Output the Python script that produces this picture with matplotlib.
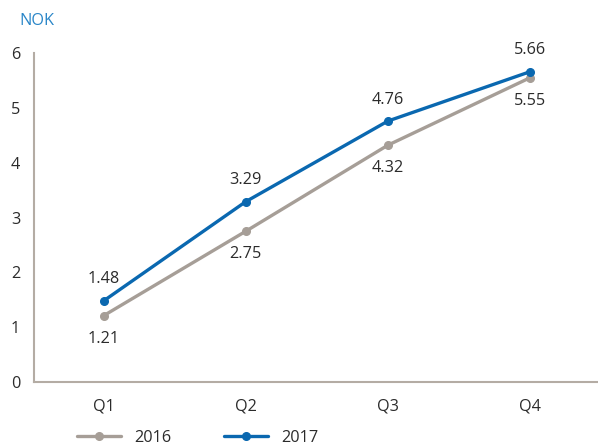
import matplotlib
matplotlib.use("Agg")
import matplotlib.pyplot as plt
import numpy as np

quarters = ["Q1", "Q2", "Q3", "Q4"]
eps_2016 = [1.21, 2.75, 4.32, 5.55]
eps_2017 = [1.48, 3.29, 4.76, 5.66]
y_ticks = [0, 1, 2, 3, 4, 5, 6]

GREY = "#a69e97"
BLUE = "#0a68b0"
TEXT = "#2b2b2b"
AXIS = "#b4aca4"
FS = 11.7

plt.rcParams["font.family"] = ["Open Sans", "DejaVu Sans"]

fig = plt.figure(figsize=(5.98, 4.46), dpi=100)
ax = fig.add_axes([0.0569, 0.1435, 0.9411, 0.7375])

x = np.arange(len(quarters))
ax.plot(x, eps_2016, color=GREY, lw=2.4, marker="o", ms=5.5, label="2016",
        solid_capstyle="round")
ax.plot(x, eps_2017, color=BLUE, lw=2.4, marker="o", ms=5.5, label="2017",
        solid_capstyle="round")

# value labels: 2016 under the line, 2017 over it
for xi, v in zip(x, eps_2016):
    ax.annotate(f"{v:.2f}", (xi, v), xytext=(0, -16.5), textcoords="offset points",
                ha="center", va="center", fontsize=FS, color=TEXT)
for xi, v in zip(x, eps_2017):
    ax.annotate(f"{v:.2f}", (xi, v), xytext=(0, 15.5), textcoords="offset points",
                ha="center", va="center", fontsize=FS, color=TEXT)

ax.set_xlim(-0.49, 3.47)
ax.set_ylim(0, 6)
ax.set_xticks(x)
ax.set_xticklabels(quarters)
ax.set_yticks(y_ticks)
ax.tick_params(axis="both", length=0, labelsize=FS, labelcolor=TEXT)
ax.tick_params(axis="y", pad=10)
ax.tick_params(axis="x", pad=12)

for side in ("top", "right"):
    ax.spines[side].set_visible(False)
for side in ("left", "bottom"):
    ax.spines[side].set_color(AXIS)
    ax.spines[side].set_linewidth(1.5)

fig.text(0.032, 0.953, "NOK", color="#2a86c8", fontsize=FS, ha="left", va="center")

ax.legend(loc="center left", bbox_to_anchor=(77 / 598, 8 / 446),
          bbox_transform=fig.transFigure, ncol=2, frameon=False,
          fontsize=FS, handlelength=2.7, handletextpad=0.85,
          columnspacing=3.2, borderpad=0, borderaxespad=0, labelcolor=TEXT)

fig.savefig("out.png", dpi=100)
